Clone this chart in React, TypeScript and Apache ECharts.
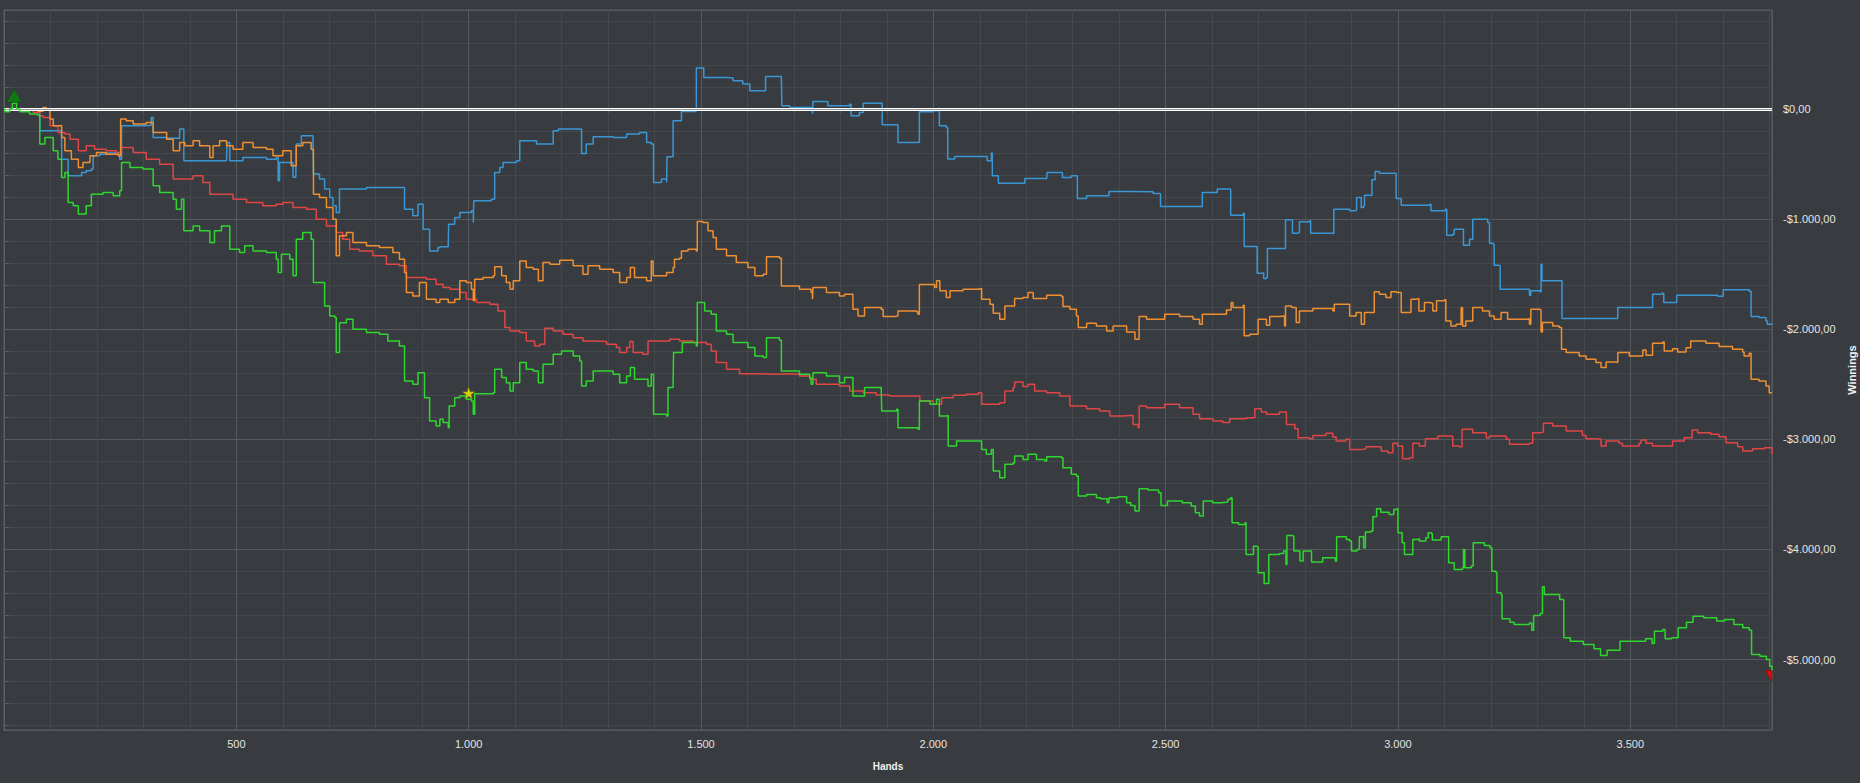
import React, { useEffect, useRef } from "react";
import * as echarts from "echarts";

// ---- axis extents / steps ----
const X_MIN = 0;
const X_MAX = 3805;
const Y_MIN = -5640;
const Y_MAX = 900;
const X_MAJOR_STEP = 500;
const Y_MAJOR_STEP = 1000;

// ---- series data: [hand, winnings] ----
const blueData: number[][] = [
  [0,0],[40,-5],[73,-10],[77,-197],[109,-197],[124,-455],[138,-606],[163,-606],[167,-575],[177,-560],[188,-545],[192,-424],[206,-410],[220,-400],[246,-410],[249,-455],[253,-152],[278,-150],[314,-145],[317,-76],[321,-258],[350,-265],[375,-270],[378,-182],[385,-182],[387,-470],[479,-470],[480,-303],[484,-303],[486,-470],[514,-440],[561,-440],[565,-455],[586,-440],[590,-651],[593,-485],[615,-485],[622,-620],[628,-620],[629,-318],[640,-242],[665,-242],[666,-590],[679,-636],[690,-727],[701,-803],[708,-879],[715,-940],[722,-727],[780,-712],[844,-712],[862,-909],[880,-970],[891,-864],[902,-1091],[916,-1288],[934,-1258],[938,-1251],[956,-1251],[957,-1045],[970,-985],[981,-939],[1006,-924],[1010,-1030],[1011,-833],[1049,-818],[1056,-576],[1067,-530],[1074,-485],[1103,-470],[1110,-288],[1146,-318],[1182,-197],[1193,-182],[1239,-182],[1243,-403],[1253,-318],[1268,-251],[1311,-258],[1340,-227],[1368,-212],[1383,-303],[1393,-318],[1398,-667],[1415,-636],[1426,-667],[1427,-433],[1440,-106],[1458,-21],[1489,-15],[1490,373],[1504,373],[1506,288],[1555,282],[1569,258],[1590,227],[1605,167],[1637,167],[1639,297],[1673,297],[1674,30],[1691,15],[1737,9],[1740,-39],[1741,70],[1770,70],[1773,30],[1820,45],[1823,-61],[1841,-30],[1849,52],[1888,52],[1890,-142],[1921,-145],[1924,-303],[1967,-303],[1970,-24],[2000,-15],[2010,6],[2013,-151],[2028,-167],[2031,-454],[2046,-430],[2114,-430],[2116,-470],[2125,-400],[2127,-606],[2140,-673],[2193,-673],[2197,-630],[2244,-630],[2245,-576],[2276,-576],[2278,-621],[2297,-606],[2308,-606],[2310,-812],[2330,-788],[2376,-788],[2378,-748],[2430,-751],[2473,-767],[2487,-770],[2489,-885],[2577,-885],[2579,-758],[2609,-758],[2611,-727],[2638,-727],[2640,-964],[2667,-946],[2669,-1248],[2695,-1248],[2697,-1491],[2710,-1485],[2711,-1539],[2717,-1530],[2719,-1266],[2756,-1266],[2758,-1006],[2771,-1006],[2773,-1127],[2785,-1121],[2788,-1024],[2810,-1015],[2812,-1127],[2860,-1130],[2862,-909],[2885,-909],[2896,-924],[2908,-918],[2911,-803],[2918,-803],[2921,-894],[2926,-879],[2928,-782],[2941,-782],[2944,-642],[2951,-567],[2960,-582],[2992,-582],[2996,-812],[3007,-873],[3046,-873],[3068,-864],[3071,-924],[3102,-909],[3105,-1145],[3118,-1136],[3121,-1091],[3139,-1091],[3141,-1236],[3150,-1236],[3154,-1182],[3159,-1182],[3161,-1000],[3193,-1030],[3197,-1218],[3205,-1227],[3207,-1418],[3217,-1424],[3220,-1636],[3279,-1636],[3283,-1691],[3286,-1651],[3306,-1660],[3308,-1409],[3310,-1560],[3351,-1560],[3353,-1903],[3469,-1903],[3473,-1803],[3544,-1803],[3548,-1682],[3568,-1673],[3572,-1757],[3597,-1757],[3600,-1691],[3688,-1700],[3700,-1642],[3756,-1654],[3760,-1885],[3777,-1894],[3792,-1924],[3795,-1954],[3805,-1945],
];

const orangeData: number[][] = [
  [0,0],[40,-5],[73,-20],[84,15],[91,-10],[99,-91],[106,-151],[116,-150],[124,-258],[131,-379],[145,-455],[160,-530],[170,-485],[185,-424],[199,-394],[220,-410],[246,-424],[251,-91],[263,-106],[278,-136],[306,-121],[321,-212],[350,-273],[364,-379],[378,-303],[389,-333],[407,-288],[421,-333],[443,-440],[450,-333],[464,-288],[479,-333],[493,-364],[514,-303],[536,-348],[565,-364],[579,-424],[600,-379],[618,-515],[629,-333],[643,-303],[661,-364],[666,-773],[679,-803],[694,-894],[708,-1000],[715,-1333],[722,-1151],[737,-1121],[751,-1212],[780,-1242],[808,-1257],[837,-1303],[851,-1364],[862,-1485],[866,-1667],[880,-1697],[894,-1576],[909,-1727],[930,-1757],[938,-1727],[956,-1757],[970,-1727],[981,-1560],[995,-1575],[1006,-1636],[1010,-1742],[1013,-1545],[1031,-1530],[1053,-1515],[1056,-1433],[1071,-1515],[1081,-1575],[1089,-1636],[1096,-1560],[1110,-1379],[1124,-1439],[1139,-1454],[1150,-1560],[1160,-1394],[1175,-1409],[1196,-1373],[1225,-1424],[1246,-1500],[1257,-1424],[1282,-1454],[1311,-1485],[1325,-1575],[1340,-1530],[1348,-1439],[1357,-1530],[1383,-1560],[1393,-1379],[1397,-1515],[1426,-1485],[1440,-1439],[1443,-1364],[1454,-1355],[1458,-1288],[1472,-1273],[1490,-1288],[1492,-1021],[1504,-1030],[1515,-1106],[1526,-1167],[1533,-1273],[1555,-1333],[1576,-1394],[1601,-1439],[1616,-1515],[1634,-1500],[1641,-1342],[1669,-1355],[1673,-1606],[1712,-1636],[1737,-1667],[1740,-1727],[1741,-1621],[1770,-1667],[1798,-1697],[1809,-1682],[1827,-1818],[1838,-1879],[1852,-1803],[1888,-1818],[1892,-1885],[1917,-1879],[1924,-1833],[1964,-1842],[1967,-1864],[1970,-1594],[2003,-1621],[2007,-1560],[2014,-1651],[2028,-1712],[2036,-1651],[2064,-1636],[2097,-1630],[2104,-1727],[2122,-1773],[2129,-1854],[2143,-1909],[2154,-1788],[2172,-1788],[2175,-1721],[2193,-1712],[2204,-1667],[2215,-1721],[2244,-1691],[2276,-1703],[2279,-1794],[2294,-1818],[2308,-1879],[2312,-1985],[2330,-1945],[2351,-1970],[2373,-2015],[2387,-1970],[2401,-1970],[2416,-2024],[2434,-2091],[2441,-2091],[2443,-1885],[2459,-1909],[2487,-1909],[2498,-1864],[2530,-1885],[2559,-1909],[2573,-1955],[2579,-1864],[2609,-1864],[2631,-1824],[2641,-1757],[2645,-1803],[2667,-1782],[2669,-2060],[2681,-2045],[2699,-1909],[2717,-1964],[2724,-1885],[2745,-1879],[2756,-1970],[2758,-1788],[2771,-1803],[2781,-1939],[2788,-1833],[2817,-1812],[2860,-1833],[2863,-1773],[2888,-1773],[2896,-1879],[2910,-1848],[2921,-1954],[2928,-1848],[2942,-1848],[2949,-1660],[2960,-1682],[2974,-1712],[2985,-1660],[2997,-1667],[3007,-1848],[3021,-1848],[3028,-1727],[3039,-1721],[3045,-1833],[3057,-1757],[3068,-1763],[3075,-1833],[3083,-1742],[3100,-1733],[3103,-1924],[3114,-1970],[3125,-1954],[3136,-1803],[3139,-1970],[3146,-1924],[3161,-1803],[3182,-1833],[3197,-1879],[3207,-1909],[3222,-1848],[3236,-1909],[3279,-1903],[3283,-1954],[3286,-1818],[3304,-1824],[3308,-2024],[3311,-1939],[3333,-1970],[3347,-1985],[3352,-2182],[3362,-2212],[3390,-2242],[3405,-2273],[3426,-2303],[3437,-2348],[3448,-2297],[3469,-2303],[3473,-2212],[3498,-2242],[3527,-2188],[3534,-2236],[3548,-2127],[3570,-2115],[3573,-2197],[3591,-2176],[3602,-2206],[3620,-2167],[3630,-2106],[3663,-2127],[3691,-2157],[3720,-2182],[3742,-2206],[3745,-2242],[3756,-2218],[3760,-2454],[3777,-2470],[3792,-2515],[3799,-2576],[3805,-2582],
];

const redData: number[][] = [
  [0,0],[40,-10],[63,-30],[77,-60],[84,-76],[99,-151],[116,-212],[131,-227],[142,-273],[160,-379],[177,-333],[195,-364],[220,-379],[242,-394],[253,-348],[278,-394],[306,-455],[335,-500],[364,-636],[393,-636],[407,-606],[428,-667],[443,-773],[464,-773],[493,-818],[522,-848],[557,-879],[586,-864],[600,-848],[622,-894],[651,-909],[672,-1000],[694,-1061],[715,-1121],[729,-1182],[744,-1273],[765,-1288],[794,-1333],[823,-1409],[851,-1424],[866,-1530],[887,-1530],[909,-1545],[930,-1591],[945,-1620],[960,-1636],[981,-1667],[995,-1727],[1017,-1757],[1046,-1773],[1063,-1833],[1078,-1985],[1089,-2015],[1110,-2030],[1124,-2106],[1142,-2151],[1153,-2136],[1164,-1990],[1182,-2015],[1203,-2045],[1225,-2076],[1246,-2106],[1268,-2112],[1297,-2136],[1318,-2166],[1325,-2212],[1340,-2166],[1347,-2112],[1354,-2212],[1375,-2227],[1386,-2106],[1433,-2091],[1454,-2106],[1483,-2121],[1512,-2136],[1522,-2197],[1533,-2303],[1555,-2363],[1583,-2403],[1619,-2409],[1655,-2403],[1691,-2409],[1712,-2424],[1734,-2454],[1748,-2500],[1777,-2500],[1798,-2515],[1820,-2560],[1849,-2576],[1877,-2597],[1906,-2606],[1957,-2606],[1971,-2651],[2000,-2682],[2018,-2621],[2043,-2600],[2071,-2591],[2097,-2576],[2104,-2682],[2143,-2667],[2154,-2560],[2172,-2530],[2175,-2479],[2193,-2521],[2204,-2500],[2218,-2560],[2244,-2576],[2272,-2606],[2294,-2697],[2330,-2721],[2358,-2742],[2380,-2788],[2408,-2782],[2430,-2864],[2441,-2894],[2443,-2697],[2459,-2712],[2498,-2682],[2530,-2712],[2559,-2773],[2573,-2812],[2602,-2833],[2623,-2848],[2638,-2812],[2674,-2803],[2692,-2721],[2706,-2751],[2717,-2773],[2745,-2751],[2760,-2864],[2778,-2903],[2785,-2985],[2810,-2994],[2817,-2964],[2845,-2945],[2860,-2979],[2867,-3015],[2888,-3000],[2896,-3091],[2924,-3085],[2931,-3067],[2956,-3067],[2964,-3106],[2978,-3121],[2989,-3036],[2999,-3060],[3010,-3176],[3025,-3167],[3032,-3036],[3046,-3060],[3059,-2994],[3086,-2970],[3114,-2976],[3118,-3060],[3132,-3067],[3138,-2909],[3161,-2939],[3190,-2985],[3197,-2970],[3233,-3000],[3240,-3045],[3283,-3036],[3290,-2939],[3308,-2933],[3313,-2854],[3333,-2879],[3362,-2924],[3397,-2964],[3405,-2994],[3426,-3000],[3437,-3060],[3448,-3015],[3476,-3036],[3483,-3060],[3519,-3036],[3523,-3006],[3534,-3036],[3548,-3060],[3580,-3060],[3591,-3015],[3616,-2985],[3633,-2915],[3645,-2939],[3673,-2954],[3691,-2976],[3706,-3030],[3731,-3067],[3742,-3106],[3763,-3085],[3788,-3076],[3805,-3136],
];

const greenData: number[][] = [
  [0,0],[2,-25],[12,6],[18,52],[22,57],[27,0],[34,-24],[55,-45],[73,-55],[77,-318],[88,-258],[106,-379],[116,-455],[124,-621],[131,-576],[138,-848],[149,-879],[160,-954],[177,-879],[188,-773],[203,-773],[213,-758],[235,-788],[249,-742],[253,-485],[271,-530],[299,-545],[317,-545],[321,-697],[335,-758],[364,-818],[371,-909],[382,-818],[387,-1106],[407,-1061],[421,-1106],[443,-1212],[453,-1106],[468,-1061],[479,-1061],[486,-1273],[507,-1303],[518,-1242],[536,-1288],[565,-1303],[586,-1364],[590,-1485],[597,-1318],[615,-1364],[622,-1515],[629,-1182],[643,-1121],[661,-1182],[666,-1576],[679,-1576],[690,-1788],[701,-1879],[712,-1894],[715,-2212],[722,-1940],[737,-1909],[751,-2000],[780,-2030],[808,-2045],[826,-2106],[851,-2151],[862,-2470],[880,-2500],[891,-2394],[905,-2621],[916,-2833],[930,-2879],[938,-2818],[945,-2848],[956,-2894],[958,-2697],[970,-2621],[981,-2606],[995,-2636],[1006,-2651],[1010,-2773],[1013,-2585],[1053,-2576],[1056,-2363],[1071,-2439],[1081,-2485],[1089,-2560],[1096,-2485],[1110,-2303],[1124,-2363],[1139,-2379],[1150,-2485],[1160,-2318],[1182,-2227],[1200,-2197],[1225,-2242],[1239,-2288],[1243,-2515],[1253,-2470],[1268,-2379],[1311,-2409],[1325,-2485],[1340,-2424],[1348,-2348],[1357,-2454],[1383,-2454],[1386,-2515],[1393,-2409],[1398,-2773],[1426,-2788],[1429,-2530],[1440,-2500],[1441,-2212],[1458,-2212],[1460,-2121],[1490,-2151],[1492,-1757],[1504,-1757],[1508,-1833],[1522,-1864],[1533,-2015],[1555,-2045],[1569,-2121],[1601,-2166],[1616,-2242],[1634,-2257],[1641,-2076],[1669,-2100],[1673,-2379],[1712,-2409],[1734,-2439],[1737,-2500],[1741,-2394],[1770,-2424],[1798,-2485],[1809,-2439],[1827,-2606],[1841,-2606],[1852,-2530],[1888,-2545],[1889,-2742],[1921,-2727],[1924,-2894],[1967,-2909],[1970,-2651],[1993,-2682],[2007,-2636],[2013,-2788],[2028,-2782],[2032,-3060],[2050,-3015],[2100,-3015],[2104,-3091],[2114,-3136],[2125,-3091],[2129,-3288],[2143,-3348],[2154,-3227],[2172,-3212],[2175,-3151],[2193,-3182],[2204,-3136],[2222,-3182],[2240,-3197],[2244,-3157],[2276,-3167],[2279,-3257],[2297,-3318],[2308,-3333],[2312,-3515],[2330,-3500],[2351,-3530],[2360,-3539],[2374,-3576],[2378,-3530],[2397,-3521],[2416,-3576],[2425,-3600],[2434,-3651],[2443,-3448],[2462,-3460],[2485,-3485],[2490,-3600],[2504,-3561],[2536,-3576],[2555,-3606],[2564,-3667],[2573,-3697],[2581,-3561],[2601,-3576],[2620,-3570],[2634,-3545],[2640,-3530],[2643,-3758],[2657,-3773],[2671,-3758],[2673,-4045],[2689,-3970],[2696,-3976],[2699,-4212],[2712,-4309],[2717,-4309],[2722,-4045],[2745,-4036],[2754,-4015],[2759,-4136],[2761,-3873],[2773,-3879],[2776,-4015],[2787,-4015],[2789,-4106],[2796,-4015],[2810,-4015],[2814,-4115],[2833,-4115],[2838,-4076],[2856,-4076],[2865,-4106],[2868,-3885],[2889,-3909],[2896,-3924],[2900,-4015],[2912,-4000],[2917,-3885],[2924,-3879],[2926,-3985],[2930,-3842],[2942,-3833],[2946,-3703],[2954,-3630],[2963,-3661],[2981,-3682],[2991,-3636],[2996,-3630],[3000,-3848],[3009,-3939],[3014,-4045],[3028,-4045],[3032,-3909],[3042,-3903],[3046,-3924],[3060,-3894],[3065,-3848],[3072,-3855],[3074,-3915],[3093,-3885],[3107,-3885],[3109,-4121],[3121,-4182],[3139,-4167],[3141,-4000],[3144,-4167],[3158,-4151],[3162,-3939],[3186,-3964],[3198,-3985],[3202,-4197],[3211,-4212],[3213,-4394],[3222,-4409],[3224,-4630],[3241,-4661],[3250,-4682],[3283,-4667],[3288,-4733],[3292,-4600],[3306,-4582],[3311,-4339],[3315,-4409],[3348,-4454],[3355,-4460],[3357,-4803],[3371,-4833],[3399,-4864],[3422,-4903],[3436,-4964],[3450,-4915],[3469,-4915],[3478,-4833],[3510,-4833],[3533,-4812],[3547,-4854],[3552,-4742],[3570,-4727],[3575,-4812],[3589,-4803],[3603,-4712],[3621,-4661],[3635,-4606],[3658,-4621],[3686,-4651],[3703,-4636],[3723,-4682],[3742,-4712],[3756,-4733],[3761,-4954],[3779,-4970],[3793,-5000],[3800,-5060],[3805,-5100],
];

// milestone star marker on the green line
const starPoints: number[][] = [[1000, -2580]];

const COLORS = {
  bg: "#383b3f",
  blue: "#3a97d6",
  orange: "#ee9032",
  red: "#e04646",
  green: "#2fd62f",
  minorGrid: "#44474b",
  majorGrid: "#56595d",
  border: "#5c5f63",
  label: "#e4e4e4",
};

function thousands(n: number): string {
  return Math.round(Math.abs(n)).toString().replace(/\B(?=(\d{3})+(?!\d))/g, ".");
}

function moneyLabel(v: number): string {
  if (Math.abs(v % Y_MAJOR_STEP) > 1e-6) return "";
  if (v === 0) return "$0,00";
  return (v < 0 ? "-$" : "$") + thousands(v) + ",00";
}

function handsLabel(v: number): string {
  if (v <= 0 || Math.abs(v % X_MAJOR_STEP) > 1e-6) return "";
  return thousands(v);
}

const FONT = "'Liberation Sans', Arial, sans-serif";

export default function App() {
  const ref = useRef<HTMLDivElement>(null);

  useEffect(() => {
    document.body.style.margin = "0";
    document.body.style.background = COLORS.bg;
    if (!ref.current) return;
    const chart = echarts.init(ref.current, undefined, { renderer: "svg" });

    let maxIdx = 0;
    greenData.forEach((p, i) => {
      if (p[1] > greenData[maxIdx][1]) maxIdx = i;
    });
    const maxPoint = greenData[maxIdx];
    const lastPoint = greenData[greenData.length - 1];

    const lineSeries = (name: string, data: number[][], color: string, z: number) => ({
      name,
      type: "line",
      step: "end",
      data,
      xAxisIndex: 0,
      yAxisIndex: 0,
      showSymbol: false,
      symbol: "none",
      z,
      lineStyle: { color, width: 1.5 },
      silent: true,
    });

    const option: any = {
      animation: false,
      backgroundColor: COLORS.bg,
      textStyle: { fontFamily: FONT },
      grid: {
        left: 4,
        right: 88,
        top: 10,
        bottom: 53,
        containLabel: false,
        outerBoundsMode: "none",
        show: true,
        borderColor: COLORS.border,
        borderWidth: 1,
        backgroundColor: "transparent",
      },
      xAxis: [
        {
          type: "value",
          position: "bottom",
          min: X_MIN,
          max: X_MAX,
          interval: 100,
          axisLine: { show: true, lineStyle: { color: COLORS.border } },
          axisTick: { show: true, length: 4, lineStyle: { color: COLORS.border } },
          axisLabel: { show: false },
          splitLine: { show: true, lineStyle: { color: COLORS.minorGrid, width: 1 } },
        },
        {
          type: "value",
          position: "bottom",
          min: X_MIN,
          max: X_MAX,
          interval: X_MAJOR_STEP,
          name: "Hands",
          nameLocation: "middle",
          nameGap: 31,
          nameTextStyle: { color: "#f0f0f0", fontWeight: "bold", fontSize: 10, fontFamily: FONT },
          axisLine: { show: false },
          axisTick: { show: false },
          axisLabel: {
            show: true,
            color: COLORS.label,
            fontSize: 11,
            fontFamily: FONT,
            margin: 8,
            formatter: handsLabel,
          },
          splitLine: { show: true, lineStyle: { color: COLORS.majorGrid, width: 1 } },
        },
      ],
      yAxis: [
        {
          type: "value",
          position: "right",
          min: Y_MIN,
          max: Y_MAX,
          splitNumber: 32,
          axisLine: { show: true, lineStyle: { color: COLORS.border } },
          axisTick: { show: true, length: 5, lineStyle: { color: COLORS.border } },
          axisLabel: { show: false },
          splitLine: { show: true, lineStyle: { color: COLORS.minorGrid, width: 1 } },
        },
        {
          type: "value",
          position: "right",
          min: Y_MIN,
          max: Y_MAX,
          splitNumber: 6,
          name: "Winnings",
          nameLocation: "middle",
          nameRotate: 90,
          nameGap: 72,
          nameTextStyle: { color: "#f0f0f0", fontWeight: "bold", fontSize: 11, fontFamily: FONT },
          axisLine: { show: false },
          axisTick: { show: false },
          axisLabel: {
            show: true,
            color: COLORS.label,
            fontSize: 11,
            fontFamily: FONT,
            margin: 11,
            formatter: moneyLabel,
          },
          splitLine: { show: true, lineStyle: { color: COLORS.majorGrid, width: 1 } },
        },
      ],
      series: [
        lineSeries("Blue", blueData, COLORS.blue, 2),
        lineSeries("Red", redData, COLORS.red, 3),
        lineSeries("Orange", orangeData, COLORS.orange, 4),
        lineSeries("Green", greenData, COLORS.green, 5),
        {
          name: "zero",
          type: "line",
          data: [],
          xAxisIndex: 0,
          yAxisIndex: 0,
          z: 6,
          silent: true,
          markLine: {
            silent: true,
            symbol: "none",
            label: { show: false },
            animation: false,
            data: [
              { yAxis: 0, lineStyle: { color: "#ffffff", width: 3.2, type: "solid" } },
              { yAxis: 0, lineStyle: { color: "#7c7e81", width: 0.8, type: "solid" } },
            ],
          },
        },
        {
          name: "max",
          type: "scatter",
          data: [maxPoint],
          xAxisIndex: 0,
          yAxisIndex: 0,
          z: 8,
          silent: true,
          clip: false,
          symbol: "triangle",
          symbolSize: [15, 13],
          symbolOffset: [0, -7],
          itemStyle: { color: "#0c860c", borderColor: "#0a520a", borderWidth: 0.8 },
        },
        {
          name: "min",
          type: "scatter",
          data: [lastPoint],
          xAxisIndex: 0,
          yAxisIndex: 0,
          z: 8,
          silent: true,
          clip: false,
          symbol: "path://M0,0L10,0L10,12Z",
          symbolSize: [7, 11],
          symbolOffset: [-3.5, 5.5],
          itemStyle: { color: "#ff0000", borderColor: "#8a0000", borderWidth: 0.6 },
        },
        {
          name: "star",
          type: "scatter",
          data: starPoints,
          xAxisIndex: 0,
          yAxisIndex: 0,
          z: 8,
          silent: true,
          symbol: "path://M50,0L61,35L98,35L68,57L79,91L50,70L21,91L32,57L2,35L39,35Z",
          symbolSize: [13, 12],
          itemStyle: { color: "#fff000", borderColor: "#6e6a00", borderWidth: 0.6 },
        },
      ],
    };

    chart.setOption(option);
    return () => chart.dispose();
  }, []);

  return <div ref={ref} style={{ width: 1860, height: 783 }} />;
}
